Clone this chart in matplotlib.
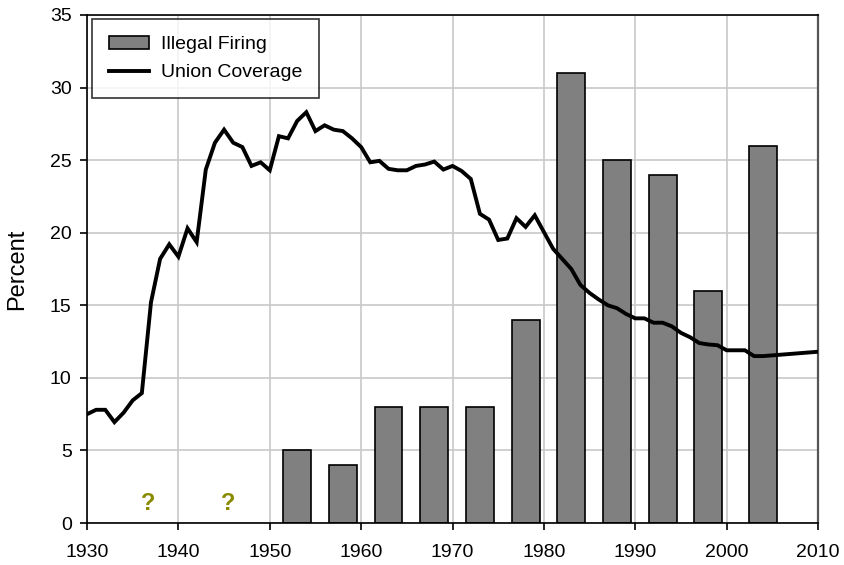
import matplotlib
matplotlib.use("Agg")
import matplotlib.pyplot as plt
from matplotlib.patches import Patch
from matplotlib.lines import Line2D

plt.rcParams['font.family'] = ['Liberation Sans', 'DejaVu Sans']

# Union coverage (percent), by year
union_years = list(range(1930, 2005)) + [2010]
union_values = [
    7.5, 7.8, 7.8, 6.95, 7.6, 8.45, 8.95, 15.2, 18.2, 19.2,
    18.35, 20.3, 19.35, 24.35, 26.2, 27.1, 26.2, 25.9, 24.6, 24.85,
    24.3, 26.65, 26.5, 27.7, 28.3, 27.0, 27.4, 27.1, 27.0, 26.5,
    25.9, 24.85, 24.95, 24.4, 24.3, 24.3, 24.6, 24.7, 24.9, 24.35,
    24.6, 24.25, 23.7, 21.3, 20.9, 19.5, 19.6, 21.0, 20.4, 21.2,
    20.05, 18.9, 18.2, 17.5, 16.4, 15.85, 15.4, 15.0, 14.8, 14.4,
    14.1, 14.1, 13.8, 13.8, 13.55, 13.1, 12.8, 12.4, 12.3, 12.25,
    11.9, 11.9, 11.9, 11.5, 11.5, 11.8,
]

# Illegal firing (percent), centred year of each period
firing_years = [1953, 1958, 1963, 1968, 1973, 1978, 1983, 1988, 1993, 1998, 2004]
firing_values = [5, 4, 8, 8, 8, 14, 31, 25, 24, 16, 26]

unknown_years = [1936.7, 1945.4]
x_ticks = list(range(1930, 2011, 10))
y_ticks = list(range(0, 36, 5))

fig = plt.figure(figsize=(8.44, 5.65), dpi=100)
ax = fig.add_axes([0.1031, 0.0743, 0.8661, 0.8992])

ax.bar(firing_years, firing_values, width=3.05, color='#808080',
       edgecolor='black', linewidth=1.2, zorder=2)
ax.plot(union_years, union_values, color='black', linewidth=2.8,
        solid_joinstyle='miter', zorder=3)

for yr in unknown_years:
    ax.text(yr, 1.35, '?', color='#8a8a00', fontsize=17, fontweight='bold',
            ha='center', va='center', zorder=4)

ax.set_xlim(1930, 2010)
ax.set_ylim(0, 35)
ax.set_xticks(x_ticks)
ax.set_yticks(y_ticks)
ax.grid(True, color='#c8c8c8', linewidth=1.2, zorder=0)
ax.set_axisbelow(True)
ax.tick_params(axis='both', labelsize=14, direction='out', length=5,
               width=1.2, colors='black')
ax.tick_params(axis='x', pad=10)
ax.tick_params(axis='y', pad=6)
ax.set_ylabel('Percent', fontsize=17, labelpad=16)

for s in ['left', 'bottom', 'top']:
    ax.spines[s].set_color('black')
    ax.spines[s].set_linewidth(1.2)
ax.spines['right'].set_color('#555555')
ax.spines['right'].set_linewidth(1.6)

handles = [Patch(facecolor='#808080', edgecolor='black', linewidth=1.2),
           Line2D([0], [0], color='black', linewidth=2.8)]
leg = ax.legend(handles, ['Illegal Firing', 'Union Coverage'],
                loc='upper left', bbox_to_anchor=(0.0068, 0.992), fontsize=14,
                frameon=True, fancybox=False, edgecolor='black',
                handlelength=2.1, handleheight=0.7, borderpad=0.85,
                labelspacing=0.55, handletextpad=0.6, borderaxespad=0.0)
leg.get_frame().set_linewidth(1.2)

fig.savefig('out.png', dpi=100)
